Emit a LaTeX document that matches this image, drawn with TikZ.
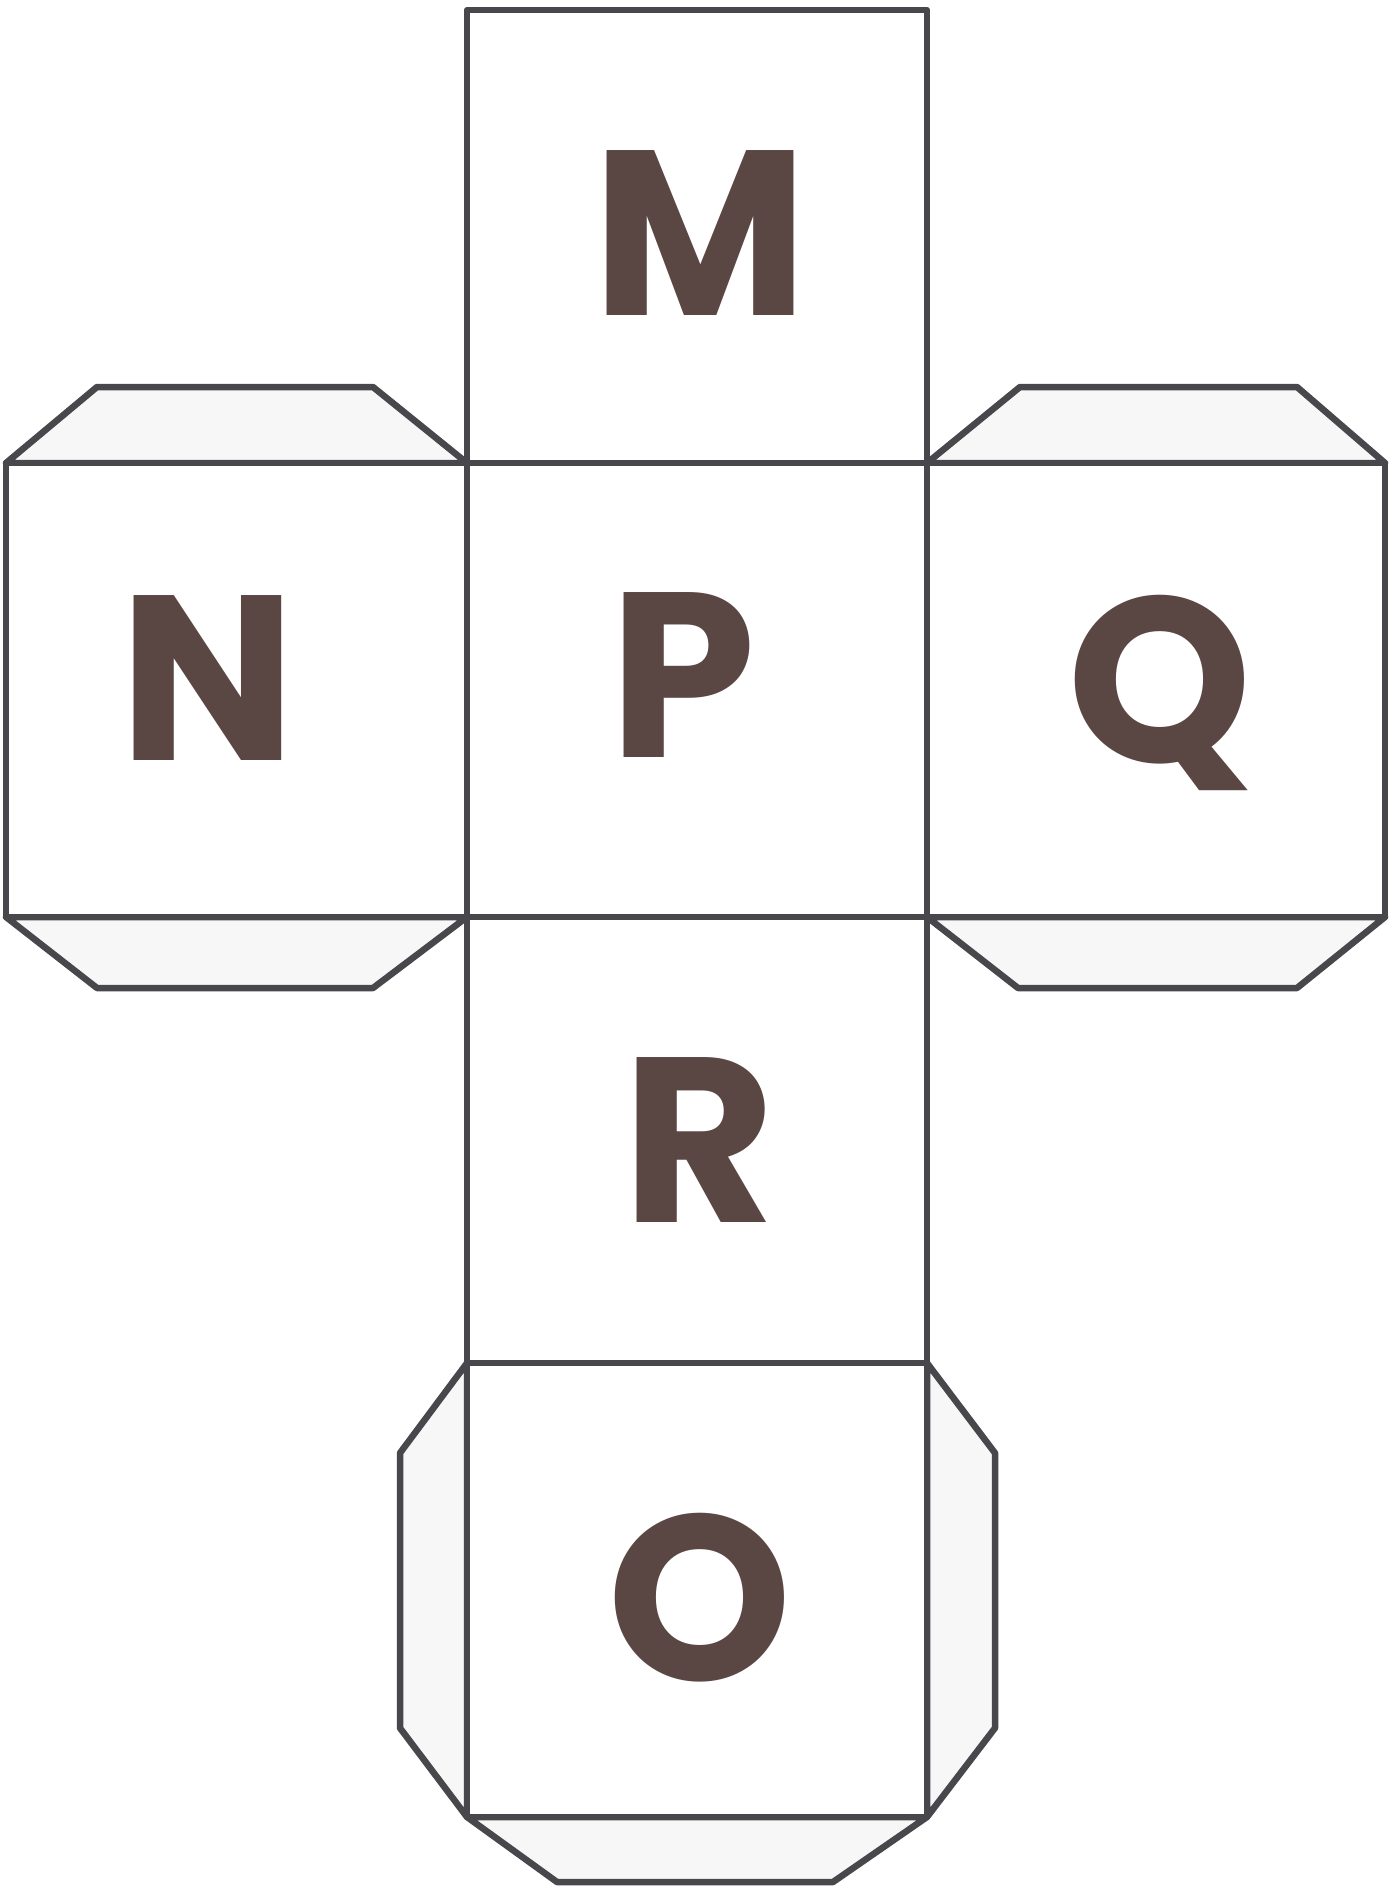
\documentclass[tikz,border=0pt]{standalone}
\usepackage{fontspec}
\setmainfont{Poppins}
\definecolor{edge}{HTML}{48474C}
\definecolor{tabfill}{HTML}{F7F7F7}
\definecolor{ink}{HTML}{5A4643}
\begin{document}
\begin{tikzpicture}[x=1pt,y=-1pt,
  facebox/.style={draw=edge,line width=6.5pt,fill=white,line join=round},
  tabshape/.style={draw=edge,line width=6.5pt,fill=tabfill,line join=round},
  letter/.style={text=ink,font=\fontsize{235}{235}\selectfont\bfseries,inner sep=0pt,anchor=center}]
\useasboundingbox (0,0) rectangle (1389,1886);
% tabs
\draw[tabshape] (6,463) -- (97,387) -- (373,387) -- (467,463) -- cycle;
\draw[tabshape] (6,917) -- (97,988) -- (373,988) -- (467,917) -- cycle;
\draw[tabshape] (927,463) -- (1020,387) -- (1297,387) -- (1385,463) -- cycle;
\draw[tabshape] (927,917) -- (1018,988) -- (1297,988) -- (1385,917) -- cycle;
\draw[tabshape] (467,1363) -- (400,1453) -- (400,1728) -- (467,1817) -- cycle;
\draw[tabshape] (927,1363) -- (995,1453) -- (995,1728) -- (927,1817) -- cycle;
\draw[tabshape] (467,1817) -- (557,1882) -- (833,1882) -- (927,1817) -- cycle;
% faces
\draw[facebox] (467,10) rectangle (927,463);
\draw[facebox] (6,463) rectangle (467,917);
\draw[facebox] (467,463) rectangle (927,917);
\draw[facebox] (927,463) rectangle (1385,917);
\draw[facebox] (467,917) rectangle (927,1363);
\draw[facebox] (467,1363) rectangle (927,1817);
% letters
\node[letter] (M) at (700,233) {M};
\node[letter] (N) at (208,678) {N};
\node[letter] (P) at (683,675) {P};
\node[letter] (Q) at (1160,693) {Q};
\node[letter] (R) at (699,1140) {R};
\node[letter] (O) at (700,1598) {O};
\end{tikzpicture}
\end{document}
